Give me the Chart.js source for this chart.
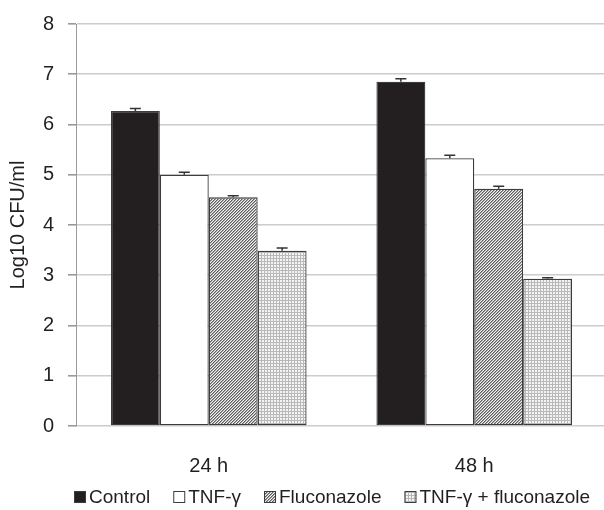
<!DOCTYPE html>
<html>
<head>
<meta charset="utf-8">
<script src="https://cdn.jsdelivr.net/npm/chart.js@4/dist/chart.umd.min.js"></script>
<style>
  html, body { margin: 0; padding: 0; background: #ffffff; overflow: hidden; }
  #wrap { position: relative; width: 607px; height: 510px; }
</style>
</head>
<body>
<div id="wrap"><canvas id="chart"></canvas></div>
<script>
// Sampling times and treatment groups
const categories = ['24 h', '48 h'];
const seriesNames = ['Control', 'TNF-\u03b3', 'Fluconazole', 'TNF-\u03b3 + fluconazole'];

// Mean log10 CFU/ml per treatment
const controlValues = [6.27, 6.85];
const tnfValues = [5.00, 5.33];
const fluconazoleValues = [4.55, 4.72];
const comboValues = [3.49, 2.93];

// Standard errors (upper bars only)
const controlErr = [0.05, 0.06];
const tnfErr = [0.05, 0.06];
const fluconazoleErr = [0.03, 0.05];
const comboErr = [0.05, 0.02];

// Y axis ticks
const yTicks = [0, 1, 2, 3, 4, 5, 6, 7, 8];

const FONT = "'Liberation Sans', Arial, sans-serif";
const INK = '#231f20';

// Fill patterns for the hatched and dotted bars
function hatchPattern() {
  const c = document.createElement('canvas');
  c.width = 3; c.height = 3;
  const g = c.getContext('2d');
  g.fillStyle = '#f2f2f2';
  g.fillRect(0, 0, 3, 3);
  for (let i = 0; i < 3; i++) {
    g.fillStyle = '#5e5e5e';
    g.fillRect(i, 2 - i, 1, 1);
    g.fillStyle = '#a8a8a8';
    g.fillRect((i + 1) % 3, 2 - i, 1, 1);
  }
  return g.createPattern(c, 'repeat');
}
function meshPattern() {
  const c = document.createElement('canvas');
  c.width = 3; c.height = 3;
  const g = c.getContext('2d');
  g.fillStyle = '#f4f4f4';
  g.fillRect(0, 0, 3, 3);
  g.fillStyle = '#b8b8b8';
  g.fillRect(0, 0, 3, 1);
  g.fillRect(0, 0, 1, 3);
  return g.createPattern(c, 'repeat');
}

const seriesValues = [controlValues, tnfValues, fluconazoleValues, comboValues];
const seriesErrors = [controlErr, tnfErr, fluconazoleErr, comboErr];
const fills = [INK, '#ffffff', hatchPattern(), meshPattern()];

const datasets = seriesNames.map((name, i) => ({
  label: name,
  data: seriesValues[i],
  errors: seriesErrors[i],
  backgroundColor: fills[i],
  borderColor: '#3c3c3c',
  borderWidth: 1.3,
  borderSkipped: false,
  categoryPercentage: 0.737,
  barPercentage: 1.0
}));

// Draws upward error bars with caps from each dataset's errors
const errorBars = {
  id: 'errorBars',
  afterDatasetsDraw(chart) {
    const ctx = chart.ctx;
    const yScale = chart.scales.y;
    ctx.save();
    ctx.strokeStyle = '#333333';
    ctx.lineWidth = 1.5;
    chart.data.datasets.forEach((ds, di) => {
      const meta = chart.getDatasetMeta(di);
      meta.data.forEach((bar, j) => {
        const v = ds.data[j];
        const e = ds.errors[j];
        const yTop = yScale.getPixelForValue(v + e);
        const yBase = yScale.getPixelForValue(v);
        ctx.beginPath();
        ctx.moveTo(bar.x, yBase);
        ctx.lineTo(bar.x, yTop);
        ctx.moveTo(bar.x - 5.5, yTop);
        ctx.lineTo(bar.x + 5.5, yTop);
        ctx.stroke();
      });
    });
    ctx.restore();
  }
};

// Compact legend row under the axis: swatch, short gap, label
const legendRow = {
  id: 'legendRow',
  afterDraw(chart) {
    const ctx = chart.ctx;
    const centerX = 332, centerY = 497;
    const box = 12, textGap = 3, itemGap = 23;
    ctx.save();
    ctx.font = '19px ' + FONT;
    ctx.textBaseline = 'middle';
    ctx.textAlign = 'left';
    const items = chart.data.datasets.map(ds => ({
      text: ds.label, fill: ds.backgroundColor, w: ctx.measureText(ds.label).width
    }));
    const total = items.reduce((s, it) => s + box + textGap + it.w, 0) + itemGap * (items.length - 1);
    let x = centerX - total / 2;
    items.forEach(it => {
      ctx.fillStyle = it.fill;
      ctx.fillRect(x, centerY - box / 2, box, box);
      ctx.strokeStyle = '#3c3c3c';
      ctx.lineWidth = 1;
      ctx.strokeRect(x + 0.5, centerY - box / 2 + 0.5, box - 1, box - 1);
      ctx.fillStyle = INK;
      ctx.fillText(it.text, x + box + textGap, centerY + 1);
      x += box + textGap + it.w + itemGap;
    });
    ctx.restore();
  }
};

new Chart(document.getElementById('chart'), {
  type: 'bar',
  data: { labels: categories, datasets },
  plugins: [errorBars, legendRow],
  options: {
    responsive: true,
    maintainAspectRatio: false,
    animation: false,
    layout: { padding: { top: 3, right: 0, bottom: 26, left: 0 } },
    plugins: {
      tooltip: { enabled: false },
      legend: { display: false }
    },
    scales: {
      x: {
        grid: { display: false, drawTicks: false },
        border: { display: false },
        ticks: { font: { family: FONT, size: 20 }, color: INK, padding: 28 },
        afterFit(scale) { scale.height = 58; }
      },
      y: {
        min: 0,
        max: 8,
        afterBuildTicks(scale) { scale.ticks = yTicks.map(v => ({ value: v })); },
        ticks: { font: { family: FONT, size: 20, lineHeight: 1.0 }, color: INK, padding: 14 },
        grid: { color: '#cccccc', lineWidth: 1.6, tickLength: 8, tickColor: '#999999' },
        border: { color: '#999999', width: 1 },
        title: {
          display: true,
          text: 'Log10 CFU/ml',
          font: { family: FONT, size: 20 },
          color: INK,
          padding: { top: 6, bottom: 0 }
        },
        afterFit(scale) { scale.width = 76; }
      }
    }
  }
});
</script>
</body>
</html>
